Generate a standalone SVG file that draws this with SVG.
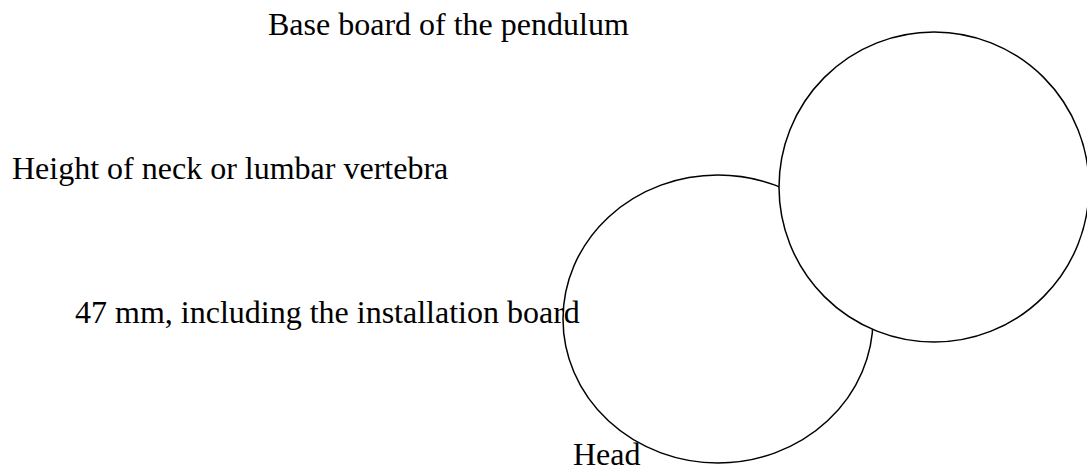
<svg xmlns="http://www.w3.org/2000/svg" width="1087" height="470" viewBox="0 0 1087 470">
<style>
.shape{fill:#fff;stroke:#000;stroke-width:1.5}
.lbl{font-family:"Liberation Serif","Times New Roman",serif;font-size:32px;fill:#000}
</style>
<rect width="1087" height="470" fill="#fff"/>
<g id="head">
<ellipse class="shape" cx="718" cy="319" rx="155" ry="144"/>
</g>
<g id="base-board">
<circle class="shape" cx="934" cy="187" r="155"/>
</g>
<g id="connectors"></g>
<g id="labels">
<text class="lbl" x="268" y="35">Base board of the pendulum</text>
<text class="lbl" x="12" y="179">Height of neck or lumbar vertebra</text>
<text class="lbl" x="75" y="323">47 mm, including the installation board</text>
<text class="lbl" x="573" y="465">Head</text>
</g>
</svg>
